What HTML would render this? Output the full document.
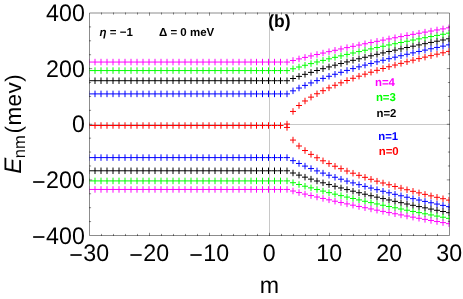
<!DOCTYPE html>
<html><head><meta charset="utf-8"><title>plot</title>
<style>html,body{margin:0;padding:0;background:#fff;}svg{display:block;will-change:transform}text{text-rendering:geometricPrecision;font-family:"Liberation Sans",sans-serif;}</style></head>
<body>
<svg width="463" height="299" viewBox="0 0 463 299">
<rect width="463" height="299" fill="#fff"/>
<defs><clipPath id="c"><rect x="89.5" y="13.0" width="360.0" height="222.5"/></clipPath></defs>
<g stroke="#c8c8c8" stroke-width="1" fill="none"><line x1="89.5" y1="124.5" x2="449.5" y2="124.5"/><line x1="269.5" y1="13.0" x2="269.5" y2="235.5"/></g>
<g clip-path="url(#c)" fill="none" stroke-linecap="butt">
<path stroke="#ff0000" stroke-width="1.0" d="M86.00 125.50h6.0M89.00 122.25v6.5M92.00 125.50h6.0M95.00 122.25v6.5M98.00 125.50h6.0M101.00 122.25v6.5M104.00 125.50h6.0M107.00 122.25v6.5M110.00 125.50h6.0M113.00 122.25v6.5M116.00 125.50h6.0M119.00 122.25v6.5M122.00 125.50h6.0M125.00 122.25v6.5M128.00 125.50h6.0M131.00 122.25v6.5M134.00 125.50h6.0M137.00 122.25v6.5M140.00 125.50h6.0M143.00 122.25v6.5M146.00 125.50h6.0M149.00 122.25v6.5M152.00 125.50h6.0M155.00 122.25v6.5M158.00 125.50h6.0M161.00 122.25v6.5M164.00 125.50h6.0M167.00 122.25v6.5M170.00 125.50h6.0M173.00 122.25v6.5M176.00 125.50h6.0M179.00 122.25v6.5M182.00 125.50h6.0M185.00 122.25v6.5M188.00 125.50h6.0M191.00 122.25v6.5M194.00 125.50h6.0M197.00 122.25v6.5M200.00 125.50h6.0M203.00 122.25v6.5M206.00 125.50h6.0M209.00 122.25v6.5M212.00 125.50h6.0M215.00 122.25v6.5M218.00 125.50h6.0M221.00 122.25v6.5M224.00 125.50h6.0M227.00 122.25v6.5M230.00 125.50h6.0M233.00 122.25v6.5M236.00 125.50h6.0M239.00 122.25v6.5M242.00 125.50h6.0M245.00 122.25v6.5M248.00 125.50h6.0M251.00 122.25v6.5M253.50 125.50h6.0M256.50 122.25v6.5M259.50 125.50h6.0M262.50 122.25v6.5M265.50 125.50h6.0M268.50 122.25v6.5M271.50 125.50h6.0M274.50 122.25v6.5M277.50 125.50h6.0M280.50 122.25v6.5M284.00 124.05h6.0M287.00 120.80v6.5M284.00 127.45h6.0M287.00 124.20v6.5M290.00 111.44h6.0M293.00 108.19v6.5M290.00 140.06h6.0M293.00 136.81v6.5M296.00 105.51h6.0M299.00 102.26v6.5M296.00 145.99h6.0M299.00 142.74v6.5M302.00 100.97h6.0M305.00 97.72v6.5M302.00 150.53h6.0M305.00 147.28v6.5M308.00 97.13h6.0M311.00 93.88v6.5M308.00 154.37h6.0M311.00 151.12v6.5M314.00 93.75h6.0M317.00 90.50v6.5M314.00 157.75h6.0M317.00 154.50v6.5M320.00 90.70h6.0M323.00 87.45v6.5M320.00 160.80h6.0M323.00 157.55v6.5M326.00 87.89h6.0M329.00 84.64v6.5M326.00 163.61h6.0M329.00 160.36v6.5M332.00 85.28h6.0M335.00 82.03v6.5M332.00 166.22h6.0M335.00 162.97v6.5M338.00 82.82h6.0M341.00 79.57v6.5M338.00 168.68h6.0M341.00 165.43v6.5M344.00 80.50h6.0M347.00 77.25v6.5M344.00 171.00h6.0M347.00 167.75v6.5M350.00 78.29h6.0M353.00 75.04v6.5M350.00 173.21h6.0M353.00 169.96v6.5M356.00 76.18h6.0M359.00 72.93v6.5M356.00 175.32h6.0M359.00 172.07v6.5M362.00 74.16h6.0M365.00 70.91v6.5M362.00 177.34h6.0M365.00 174.09v6.5M368.00 72.21h6.0M371.00 68.96v6.5M368.00 179.29h6.0M371.00 176.04v6.5M374.00 70.33h6.0M377.00 67.08v6.5M374.00 181.17h6.0M377.00 177.92v6.5M380.00 68.51h6.0M383.00 65.26v6.5M380.00 182.99h6.0M383.00 179.74v6.5M386.00 66.75h6.0M389.00 63.50v6.5M386.00 184.75h6.0M389.00 181.50v6.5M392.00 65.04h6.0M395.00 61.79v6.5M392.00 186.46h6.0M395.00 183.21v6.5M398.00 63.38h6.0M401.00 60.13v6.5M398.00 188.12h6.0M401.00 184.87v6.5M404.00 61.76h6.0M407.00 58.51v6.5M404.00 189.74h6.0M407.00 186.49v6.5M410.00 60.18h6.0M413.00 56.93v6.5M410.00 191.32h6.0M413.00 188.07v6.5M416.00 58.63h6.0M419.00 55.38v6.5M416.00 192.87h6.0M419.00 189.62v6.5M422.00 57.13h6.0M425.00 53.88v6.5M422.00 194.37h6.0M425.00 191.12v6.5M428.00 55.65h6.0M431.00 52.40v6.5M428.00 195.85h6.0M431.00 192.60v6.5M434.00 54.20h6.0M437.00 50.95v6.5M434.00 197.30h6.0M437.00 194.05v6.5M440.00 52.79h6.0M443.00 49.54v6.5M440.00 198.71h6.0M443.00 195.46v6.5M446.00 51.40h6.0M449.00 48.15v6.5M446.00 200.10h6.0M449.00 196.85v6.5"/>
<path stroke="#0000ff" stroke-width="1.0" d="M86.00 93.90h6.0M89.00 90.65v6.5M86.00 157.60h6.0M89.00 154.35v6.5M92.00 93.90h6.0M95.00 90.65v6.5M92.00 157.60h6.0M95.00 154.35v6.5M98.00 93.90h6.0M101.00 90.65v6.5M98.00 157.60h6.0M101.00 154.35v6.5M104.00 93.90h6.0M107.00 90.65v6.5M104.00 157.60h6.0M107.00 154.35v6.5M110.00 93.90h6.0M113.00 90.65v6.5M110.00 157.60h6.0M113.00 154.35v6.5M116.00 93.90h6.0M119.00 90.65v6.5M116.00 157.60h6.0M119.00 154.35v6.5M122.00 93.90h6.0M125.00 90.65v6.5M122.00 157.60h6.0M125.00 154.35v6.5M128.00 93.90h6.0M131.00 90.65v6.5M128.00 157.60h6.0M131.00 154.35v6.5M134.00 93.90h6.0M137.00 90.65v6.5M134.00 157.60h6.0M137.00 154.35v6.5M140.00 93.90h6.0M143.00 90.65v6.5M140.00 157.60h6.0M143.00 154.35v6.5M146.00 93.90h6.0M149.00 90.65v6.5M146.00 157.60h6.0M149.00 154.35v6.5M152.00 93.90h6.0M155.00 90.65v6.5M152.00 157.60h6.0M155.00 154.35v6.5M158.00 93.90h6.0M161.00 90.65v6.5M158.00 157.60h6.0M161.00 154.35v6.5M164.00 93.90h6.0M167.00 90.65v6.5M164.00 157.60h6.0M167.00 154.35v6.5M170.00 93.90h6.0M173.00 90.65v6.5M170.00 157.60h6.0M173.00 154.35v6.5M176.00 93.90h6.0M179.00 90.65v6.5M176.00 157.60h6.0M179.00 154.35v6.5M182.00 93.90h6.0M185.00 90.65v6.5M182.00 157.60h6.0M185.00 154.35v6.5M188.00 93.90h6.0M191.00 90.65v6.5M188.00 157.60h6.0M191.00 154.35v6.5M194.00 93.90h6.0M197.00 90.65v6.5M194.00 157.60h6.0M197.00 154.35v6.5M200.00 93.90h6.0M203.00 90.65v6.5M200.00 157.60h6.0M203.00 154.35v6.5M206.00 93.90h6.0M209.00 90.65v6.5M206.00 157.60h6.0M209.00 154.35v6.5M212.00 93.90h6.0M215.00 90.65v6.5M212.00 157.60h6.0M215.00 154.35v6.5M218.00 93.90h6.0M221.00 90.65v6.5M218.00 157.60h6.0M221.00 154.35v6.5M224.00 93.90h6.0M227.00 90.65v6.5M224.00 157.60h6.0M227.00 154.35v6.5M230.00 93.90h6.0M233.00 90.65v6.5M230.00 157.60h6.0M233.00 154.35v6.5M236.00 93.90h6.0M239.00 90.65v6.5M236.00 157.60h6.0M239.00 154.35v6.5M242.00 93.90h6.0M245.00 90.65v6.5M242.00 157.60h6.0M245.00 154.35v6.5M248.00 93.90h6.0M251.00 90.65v6.5M248.00 157.60h6.0M251.00 154.35v6.5M253.50 93.90h6.0M256.50 90.65v6.5M253.50 157.60h6.0M256.50 154.35v6.5M259.50 93.90h6.0M262.50 90.65v6.5M259.50 157.60h6.0M262.50 154.35v6.5M265.50 93.90h6.0M268.50 90.65v6.5M265.50 157.60h6.0M268.50 154.35v6.5M271.50 93.90h6.0M274.50 90.65v6.5M271.50 157.60h6.0M274.50 154.35v6.5M277.50 93.90h6.0M280.50 90.65v6.5M277.50 157.60h6.0M280.50 154.35v6.5M284.00 93.90h6.0M287.00 90.65v6.5M284.00 157.60h6.0M287.00 154.35v6.5M290.00 90.84h6.0M293.00 87.59v6.5M290.00 160.66h6.0M293.00 157.41v6.5M296.00 88.02h6.0M299.00 84.77v6.5M296.00 163.48h6.0M299.00 160.23v6.5M302.00 85.40h6.0M305.00 82.15v6.5M302.00 166.10h6.0M305.00 162.85v6.5M308.00 82.93h6.0M311.00 79.68v6.5M308.00 168.57h6.0M311.00 165.32v6.5M314.00 80.61h6.0M317.00 77.36v6.5M314.00 170.89h6.0M317.00 167.64v6.5M320.00 78.39h6.0M323.00 75.14v6.5M320.00 173.11h6.0M323.00 169.86v6.5M326.00 76.28h6.0M329.00 73.03v6.5M326.00 175.22h6.0M329.00 171.97v6.5M332.00 74.25h6.0M335.00 71.00v6.5M332.00 177.25h6.0M335.00 174.00v6.5M338.00 72.30h6.0M341.00 69.05v6.5M338.00 179.20h6.0M341.00 175.95v6.5M344.00 70.42h6.0M347.00 67.17v6.5M344.00 181.08h6.0M347.00 177.83v6.5M350.00 68.60h6.0M353.00 65.35v6.5M350.00 182.90h6.0M353.00 179.65v6.5M356.00 66.83h6.0M359.00 63.58v6.5M356.00 184.67h6.0M359.00 181.42v6.5M362.00 65.12h6.0M365.00 61.87v6.5M362.00 186.38h6.0M365.00 183.13v6.5M368.00 63.45h6.0M371.00 60.20v6.5M368.00 188.05h6.0M371.00 184.80v6.5M374.00 61.83h6.0M377.00 58.58v6.5M374.00 189.67h6.0M377.00 186.42v6.5M380.00 60.25h6.0M383.00 57.00v6.5M380.00 191.25h6.0M383.00 188.00v6.5M386.00 58.71h6.0M389.00 55.46v6.5M386.00 192.79h6.0M389.00 189.54v6.5M392.00 57.20h6.0M395.00 53.95v6.5M392.00 194.30h6.0M395.00 191.05v6.5M398.00 55.72h6.0M401.00 52.47v6.5M398.00 195.78h6.0M401.00 192.53v6.5M404.00 54.27h6.0M407.00 51.02v6.5M404.00 197.23h6.0M407.00 193.98v6.5M410.00 52.85h6.0M413.00 49.60v6.5M410.00 198.65h6.0M413.00 195.40v6.5M416.00 51.46h6.0M419.00 48.21v6.5M416.00 200.04h6.0M419.00 196.79v6.5M422.00 50.10h6.0M425.00 46.85v6.5M422.00 201.40h6.0M425.00 198.15v6.5M428.00 48.75h6.0M431.00 45.50v6.5M428.00 202.75h6.0M431.00 199.50v6.5M434.00 47.44h6.0M437.00 44.19v6.5M434.00 204.06h6.0M437.00 200.81v6.5M440.00 46.14h6.0M443.00 42.89v6.5M440.00 205.36h6.0M443.00 202.11v6.5M446.00 44.86h6.0M449.00 41.61v6.5M446.00 206.64h6.0M449.00 203.39v6.5"/>
<path stroke="#000000" stroke-width="1.0" d="M86.00 80.71h6.0M89.00 77.46v6.5M86.00 170.79h6.0M89.00 167.54v6.5M92.00 80.71h6.0M95.00 77.46v6.5M92.00 170.79h6.0M95.00 167.54v6.5M98.00 80.71h6.0M101.00 77.46v6.5M98.00 170.79h6.0M101.00 167.54v6.5M104.00 80.71h6.0M107.00 77.46v6.5M104.00 170.79h6.0M107.00 167.54v6.5M110.00 80.71h6.0M113.00 77.46v6.5M110.00 170.79h6.0M113.00 167.54v6.5M116.00 80.71h6.0M119.00 77.46v6.5M116.00 170.79h6.0M119.00 167.54v6.5M122.00 80.71h6.0M125.00 77.46v6.5M122.00 170.79h6.0M125.00 167.54v6.5M128.00 80.71h6.0M131.00 77.46v6.5M128.00 170.79h6.0M131.00 167.54v6.5M134.00 80.71h6.0M137.00 77.46v6.5M134.00 170.79h6.0M137.00 167.54v6.5M140.00 80.71h6.0M143.00 77.46v6.5M140.00 170.79h6.0M143.00 167.54v6.5M146.00 80.71h6.0M149.00 77.46v6.5M146.00 170.79h6.0M149.00 167.54v6.5M152.00 80.71h6.0M155.00 77.46v6.5M152.00 170.79h6.0M155.00 167.54v6.5M158.00 80.71h6.0M161.00 77.46v6.5M158.00 170.79h6.0M161.00 167.54v6.5M164.00 80.71h6.0M167.00 77.46v6.5M164.00 170.79h6.0M167.00 167.54v6.5M170.00 80.71h6.0M173.00 77.46v6.5M170.00 170.79h6.0M173.00 167.54v6.5M176.00 80.71h6.0M179.00 77.46v6.5M176.00 170.79h6.0M179.00 167.54v6.5M182.00 80.71h6.0M185.00 77.46v6.5M182.00 170.79h6.0M185.00 167.54v6.5M188.00 80.71h6.0M191.00 77.46v6.5M188.00 170.79h6.0M191.00 167.54v6.5M194.00 80.71h6.0M197.00 77.46v6.5M194.00 170.79h6.0M197.00 167.54v6.5M200.00 80.71h6.0M203.00 77.46v6.5M200.00 170.79h6.0M203.00 167.54v6.5M206.00 80.71h6.0M209.00 77.46v6.5M206.00 170.79h6.0M209.00 167.54v6.5M212.00 80.71h6.0M215.00 77.46v6.5M212.00 170.79h6.0M215.00 167.54v6.5M218.00 80.71h6.0M221.00 77.46v6.5M218.00 170.79h6.0M221.00 167.54v6.5M224.00 80.71h6.0M227.00 77.46v6.5M224.00 170.79h6.0M227.00 167.54v6.5M230.00 80.71h6.0M233.00 77.46v6.5M230.00 170.79h6.0M233.00 167.54v6.5M236.00 80.71h6.0M239.00 77.46v6.5M236.00 170.79h6.0M239.00 167.54v6.5M242.00 80.71h6.0M245.00 77.46v6.5M242.00 170.79h6.0M245.00 167.54v6.5M248.00 80.71h6.0M251.00 77.46v6.5M248.00 170.79h6.0M251.00 167.54v6.5M253.50 80.71h6.0M256.50 77.46v6.5M253.50 170.79h6.0M256.50 167.54v6.5M259.50 80.71h6.0M262.50 77.46v6.5M259.50 170.79h6.0M262.50 167.54v6.5M265.50 80.71h6.0M268.50 77.46v6.5M265.50 170.79h6.0M268.50 167.54v6.5M271.50 80.71h6.0M274.50 77.46v6.5M271.50 170.79h6.0M274.50 167.54v6.5M277.50 80.71h6.0M280.50 77.46v6.5M277.50 170.79h6.0M280.50 167.54v6.5M284.00 80.71h6.0M287.00 77.46v6.5M284.00 170.79h6.0M287.00 167.54v6.5M290.00 78.50h6.0M293.00 75.25v6.5M290.00 173.00h6.0M293.00 169.75v6.5M296.00 76.38h6.0M299.00 73.13v6.5M296.00 175.12h6.0M299.00 171.87v6.5M302.00 74.34h6.0M305.00 71.09v6.5M302.00 177.16h6.0M305.00 173.91v6.5M308.00 72.39h6.0M311.00 69.14v6.5M308.00 179.11h6.0M311.00 175.86v6.5M314.00 70.50h6.0M317.00 67.25v6.5M314.00 181.00h6.0M317.00 177.75v6.5M320.00 68.68h6.0M323.00 65.43v6.5M320.00 182.82h6.0M323.00 179.57v6.5M326.00 66.92h6.0M329.00 63.67v6.5M326.00 184.58h6.0M329.00 181.33v6.5M332.00 65.20h6.0M335.00 61.95v6.5M332.00 186.30h6.0M335.00 183.05v6.5M338.00 63.53h6.0M341.00 60.28v6.5M338.00 187.97h6.0M341.00 184.72v6.5M344.00 61.91h6.0M347.00 58.66v6.5M344.00 189.59h6.0M347.00 186.34v6.5M350.00 60.32h6.0M353.00 57.07v6.5M350.00 191.18h6.0M353.00 187.93v6.5M356.00 58.78h6.0M359.00 55.53v6.5M356.00 192.72h6.0M359.00 189.47v6.5M362.00 57.27h6.0M365.00 54.02v6.5M362.00 194.23h6.0M365.00 190.98v6.5M368.00 55.79h6.0M371.00 52.54v6.5M368.00 195.71h6.0M371.00 192.46v6.5M374.00 54.34h6.0M377.00 51.09v6.5M374.00 197.16h6.0M377.00 193.91v6.5M380.00 52.92h6.0M383.00 49.67v6.5M380.00 198.58h6.0M383.00 195.33v6.5M386.00 51.53h6.0M389.00 48.28v6.5M386.00 199.97h6.0M389.00 196.72v6.5M392.00 50.16h6.0M395.00 46.91v6.5M392.00 201.34h6.0M395.00 198.09v6.5M398.00 48.82h6.0M401.00 45.57v6.5M398.00 202.68h6.0M401.00 199.43v6.5M404.00 47.50h6.0M407.00 44.25v6.5M404.00 204.00h6.0M407.00 200.75v6.5M410.00 46.20h6.0M413.00 42.95v6.5M410.00 205.30h6.0M413.00 202.05v6.5M416.00 44.92h6.0M419.00 41.67v6.5M416.00 206.58h6.0M419.00 203.33v6.5M422.00 43.67h6.0M425.00 40.42v6.5M422.00 207.83h6.0M425.00 204.58v6.5M428.00 42.43h6.0M431.00 39.18v6.5M428.00 209.07h6.0M431.00 205.82v6.5M434.00 41.21h6.0M437.00 37.96v6.5M434.00 210.29h6.0M437.00 207.04v6.5M440.00 40.01h6.0M443.00 36.76v6.5M440.00 211.49h6.0M443.00 208.24v6.5M446.00 38.82h6.0M449.00 35.57v6.5M446.00 212.68h6.0M449.00 209.43v6.5"/>
<path stroke="#00ff00" stroke-width="1.0" d="M86.00 70.59h6.0M89.00 67.34v6.5M86.00 180.91h6.0M89.00 177.66v6.5M92.00 70.59h6.0M95.00 67.34v6.5M92.00 180.91h6.0M95.00 177.66v6.5M98.00 70.59h6.0M101.00 67.34v6.5M98.00 180.91h6.0M101.00 177.66v6.5M104.00 70.59h6.0M107.00 67.34v6.5M104.00 180.91h6.0M107.00 177.66v6.5M110.00 70.59h6.0M113.00 67.34v6.5M110.00 180.91h6.0M113.00 177.66v6.5M116.00 70.59h6.0M119.00 67.34v6.5M116.00 180.91h6.0M119.00 177.66v6.5M122.00 70.59h6.0M125.00 67.34v6.5M122.00 180.91h6.0M125.00 177.66v6.5M128.00 70.59h6.0M131.00 67.34v6.5M128.00 180.91h6.0M131.00 177.66v6.5M134.00 70.59h6.0M137.00 67.34v6.5M134.00 180.91h6.0M137.00 177.66v6.5M140.00 70.59h6.0M143.00 67.34v6.5M140.00 180.91h6.0M143.00 177.66v6.5M146.00 70.59h6.0M149.00 67.34v6.5M146.00 180.91h6.0M149.00 177.66v6.5M152.00 70.59h6.0M155.00 67.34v6.5M152.00 180.91h6.0M155.00 177.66v6.5M158.00 70.59h6.0M161.00 67.34v6.5M158.00 180.91h6.0M161.00 177.66v6.5M164.00 70.59h6.0M167.00 67.34v6.5M164.00 180.91h6.0M167.00 177.66v6.5M170.00 70.59h6.0M173.00 67.34v6.5M170.00 180.91h6.0M173.00 177.66v6.5M176.00 70.59h6.0M179.00 67.34v6.5M176.00 180.91h6.0M179.00 177.66v6.5M182.00 70.59h6.0M185.00 67.34v6.5M182.00 180.91h6.0M185.00 177.66v6.5M188.00 70.59h6.0M191.00 67.34v6.5M188.00 180.91h6.0M191.00 177.66v6.5M194.00 70.59h6.0M197.00 67.34v6.5M194.00 180.91h6.0M197.00 177.66v6.5M200.00 70.59h6.0M203.00 67.34v6.5M200.00 180.91h6.0M203.00 177.66v6.5M206.00 70.59h6.0M209.00 67.34v6.5M206.00 180.91h6.0M209.00 177.66v6.5M212.00 70.59h6.0M215.00 67.34v6.5M212.00 180.91h6.0M215.00 177.66v6.5M218.00 70.59h6.0M221.00 67.34v6.5M218.00 180.91h6.0M221.00 177.66v6.5M224.00 70.59h6.0M227.00 67.34v6.5M224.00 180.91h6.0M227.00 177.66v6.5M230.00 70.59h6.0M233.00 67.34v6.5M230.00 180.91h6.0M233.00 177.66v6.5M236.00 70.59h6.0M239.00 67.34v6.5M236.00 180.91h6.0M239.00 177.66v6.5M242.00 70.59h6.0M245.00 67.34v6.5M242.00 180.91h6.0M245.00 177.66v6.5M248.00 70.59h6.0M251.00 67.34v6.5M248.00 180.91h6.0M251.00 177.66v6.5M253.50 70.59h6.0M256.50 67.34v6.5M253.50 180.91h6.0M256.50 177.66v6.5M259.50 70.59h6.0M262.50 67.34v6.5M259.50 180.91h6.0M262.50 177.66v6.5M265.50 70.59h6.0M268.50 67.34v6.5M265.50 180.91h6.0M268.50 177.66v6.5M271.50 70.59h6.0M274.50 67.34v6.5M271.50 180.91h6.0M274.50 177.66v6.5M277.50 70.59h6.0M280.50 67.34v6.5M277.50 180.91h6.0M280.50 177.66v6.5M284.00 70.59h6.0M287.00 67.34v6.5M284.00 180.91h6.0M287.00 177.66v6.5M290.00 68.77h6.0M293.00 65.52v6.5M290.00 182.73h6.0M293.00 179.48v6.5M296.00 67.00h6.0M299.00 63.75v6.5M296.00 184.50h6.0M299.00 181.25v6.5M302.00 65.28h6.0M305.00 62.03v6.5M302.00 186.22h6.0M305.00 182.97v6.5M308.00 63.61h6.0M311.00 60.36v6.5M308.00 187.89h6.0M311.00 184.64v6.5M314.00 61.98h6.0M317.00 58.73v6.5M314.00 189.52h6.0M317.00 186.27v6.5M320.00 60.40h6.0M323.00 57.15v6.5M320.00 191.10h6.0M323.00 187.85v6.5M326.00 58.85h6.0M329.00 55.60v6.5M326.00 192.65h6.0M329.00 189.40v6.5M332.00 57.34h6.0M335.00 54.09v6.5M332.00 194.16h6.0M335.00 190.91v6.5M338.00 55.86h6.0M341.00 52.61v6.5M338.00 195.64h6.0M341.00 192.39v6.5M344.00 54.41h6.0M347.00 51.16v6.5M344.00 197.09h6.0M347.00 193.84v6.5M350.00 52.99h6.0M353.00 49.74v6.5M350.00 198.51h6.0M353.00 195.26v6.5M356.00 51.59h6.0M359.00 48.34v6.5M356.00 199.91h6.0M359.00 196.66v6.5M362.00 50.22h6.0M365.00 46.97v6.5M362.00 201.28h6.0M365.00 198.03v6.5M368.00 48.88h6.0M371.00 45.63v6.5M368.00 202.62h6.0M371.00 199.37v6.5M374.00 47.56h6.0M377.00 44.31v6.5M374.00 203.94h6.0M377.00 200.69v6.5M380.00 46.26h6.0M383.00 43.01v6.5M380.00 205.24h6.0M383.00 201.99v6.5M386.00 44.98h6.0M389.00 41.73v6.5M386.00 206.52h6.0M389.00 203.27v6.5M392.00 43.73h6.0M395.00 40.48v6.5M392.00 207.77h6.0M395.00 204.52v6.5M398.00 42.49h6.0M401.00 39.24v6.5M398.00 209.01h6.0M401.00 205.76v6.5M404.00 41.27h6.0M407.00 38.02v6.5M404.00 210.23h6.0M407.00 206.98v6.5M410.00 40.06h6.0M413.00 36.81v6.5M410.00 211.44h6.0M413.00 208.19v6.5M416.00 38.88h6.0M419.00 35.63v6.5M416.00 212.62h6.0M419.00 209.37v6.5M422.00 37.71h6.0M425.00 34.46v6.5M422.00 213.79h6.0M425.00 210.54v6.5M428.00 36.55h6.0M431.00 33.30v6.5M428.00 214.95h6.0M431.00 211.70v6.5M434.00 35.41h6.0M437.00 32.16v6.5M434.00 216.09h6.0M437.00 212.84v6.5M440.00 34.28h6.0M443.00 31.03v6.5M440.00 217.22h6.0M443.00 213.97v6.5M446.00 33.17h6.0M449.00 29.92v6.5M446.00 218.33h6.0M449.00 215.08v6.5"/>
<path stroke="#ff00ff" stroke-width="1.0" d="M86.00 62.06h6.0M89.00 58.81v6.5M86.00 189.44h6.0M89.00 186.19v6.5M92.00 62.06h6.0M95.00 58.81v6.5M92.00 189.44h6.0M95.00 186.19v6.5M98.00 62.06h6.0M101.00 58.81v6.5M98.00 189.44h6.0M101.00 186.19v6.5M104.00 62.06h6.0M107.00 58.81v6.5M104.00 189.44h6.0M107.00 186.19v6.5M110.00 62.06h6.0M113.00 58.81v6.5M110.00 189.44h6.0M113.00 186.19v6.5M116.00 62.06h6.0M119.00 58.81v6.5M116.00 189.44h6.0M119.00 186.19v6.5M122.00 62.06h6.0M125.00 58.81v6.5M122.00 189.44h6.0M125.00 186.19v6.5M128.00 62.06h6.0M131.00 58.81v6.5M128.00 189.44h6.0M131.00 186.19v6.5M134.00 62.06h6.0M137.00 58.81v6.5M134.00 189.44h6.0M137.00 186.19v6.5M140.00 62.06h6.0M143.00 58.81v6.5M140.00 189.44h6.0M143.00 186.19v6.5M146.00 62.06h6.0M149.00 58.81v6.5M146.00 189.44h6.0M149.00 186.19v6.5M152.00 62.06h6.0M155.00 58.81v6.5M152.00 189.44h6.0M155.00 186.19v6.5M158.00 62.06h6.0M161.00 58.81v6.5M158.00 189.44h6.0M161.00 186.19v6.5M164.00 62.06h6.0M167.00 58.81v6.5M164.00 189.44h6.0M167.00 186.19v6.5M170.00 62.06h6.0M173.00 58.81v6.5M170.00 189.44h6.0M173.00 186.19v6.5M176.00 62.06h6.0M179.00 58.81v6.5M176.00 189.44h6.0M179.00 186.19v6.5M182.00 62.06h6.0M185.00 58.81v6.5M182.00 189.44h6.0M185.00 186.19v6.5M188.00 62.06h6.0M191.00 58.81v6.5M188.00 189.44h6.0M191.00 186.19v6.5M194.00 62.06h6.0M197.00 58.81v6.5M194.00 189.44h6.0M197.00 186.19v6.5M200.00 62.06h6.0M203.00 58.81v6.5M200.00 189.44h6.0M203.00 186.19v6.5M206.00 62.06h6.0M209.00 58.81v6.5M206.00 189.44h6.0M209.00 186.19v6.5M212.00 62.06h6.0M215.00 58.81v6.5M212.00 189.44h6.0M215.00 186.19v6.5M218.00 62.06h6.0M221.00 58.81v6.5M218.00 189.44h6.0M221.00 186.19v6.5M224.00 62.06h6.0M227.00 58.81v6.5M224.00 189.44h6.0M227.00 186.19v6.5M230.00 62.06h6.0M233.00 58.81v6.5M230.00 189.44h6.0M233.00 186.19v6.5M236.00 62.06h6.0M239.00 58.81v6.5M236.00 189.44h6.0M239.00 186.19v6.5M242.00 62.06h6.0M245.00 58.81v6.5M242.00 189.44h6.0M245.00 186.19v6.5M248.00 62.06h6.0M251.00 58.81v6.5M248.00 189.44h6.0M251.00 186.19v6.5M253.50 62.06h6.0M256.50 58.81v6.5M253.50 189.44h6.0M256.50 186.19v6.5M259.50 62.06h6.0M262.50 58.81v6.5M259.50 189.44h6.0M262.50 186.19v6.5M265.50 62.06h6.0M268.50 58.81v6.5M265.50 189.44h6.0M268.50 186.19v6.5M271.50 62.06h6.0M274.50 58.81v6.5M271.50 189.44h6.0M274.50 186.19v6.5M277.50 62.06h6.0M280.50 58.81v6.5M277.50 189.44h6.0M280.50 186.19v6.5M284.00 62.06h6.0M287.00 58.81v6.5M284.00 189.44h6.0M287.00 186.19v6.5M290.00 60.47h6.0M293.00 57.22v6.5M290.00 191.03h6.0M293.00 187.78v6.5M296.00 58.92h6.0M299.00 55.67v6.5M296.00 192.58h6.0M299.00 189.33v6.5M302.00 57.41h6.0M305.00 54.16v6.5M302.00 194.09h6.0M305.00 190.84v6.5M308.00 55.93h6.0M311.00 52.68v6.5M308.00 195.57h6.0M311.00 192.32v6.5M314.00 54.47h6.0M317.00 51.22v6.5M314.00 197.03h6.0M317.00 193.78v6.5M320.00 53.05h6.0M323.00 49.80v6.5M320.00 198.45h6.0M323.00 195.20v6.5M326.00 51.66h6.0M329.00 48.41v6.5M326.00 199.84h6.0M329.00 196.59v6.5M332.00 50.29h6.0M335.00 47.04v6.5M332.00 201.21h6.0M335.00 197.96v6.5M338.00 48.94h6.0M341.00 45.69v6.5M338.00 202.56h6.0M341.00 199.31v6.5M344.00 47.62h6.0M347.00 44.37v6.5M344.00 203.88h6.0M347.00 200.63v6.5M350.00 46.32h6.0M353.00 43.07v6.5M350.00 205.18h6.0M353.00 201.93v6.5M356.00 45.04h6.0M359.00 41.79v6.5M356.00 206.46h6.0M359.00 203.21v6.5M362.00 43.78h6.0M365.00 40.53v6.5M362.00 207.72h6.0M365.00 204.47v6.5M368.00 42.55h6.0M371.00 39.30v6.5M368.00 208.95h6.0M371.00 205.70v6.5M374.00 41.32h6.0M377.00 38.07v6.5M374.00 210.18h6.0M377.00 206.93v6.5M380.00 40.12h6.0M383.00 36.87v6.5M380.00 211.38h6.0M383.00 208.13v6.5M386.00 38.93h6.0M389.00 35.68v6.5M386.00 212.57h6.0M389.00 209.32v6.5M392.00 37.76h6.0M395.00 34.51v6.5M392.00 213.74h6.0M395.00 210.49v6.5M398.00 36.60h6.0M401.00 33.35v6.5M398.00 214.90h6.0M401.00 211.65v6.5M404.00 35.46h6.0M407.00 32.21v6.5M404.00 216.04h6.0M407.00 212.79v6.5M410.00 34.34h6.0M413.00 31.09v6.5M410.00 217.16h6.0M413.00 213.91v6.5M416.00 33.22h6.0M419.00 29.97v6.5M416.00 218.28h6.0M419.00 215.03v6.5M422.00 32.12h6.0M425.00 28.87v6.5M422.00 219.38h6.0M425.00 216.13v6.5M428.00 31.04h6.0M431.00 27.79v6.5M428.00 220.46h6.0M431.00 217.21v6.5M434.00 29.96h6.0M437.00 26.71v6.5M434.00 221.54h6.0M437.00 218.29v6.5M440.00 28.90h6.0M443.00 25.65v6.5M440.00 222.60h6.0M443.00 219.35v6.5M446.00 27.85h6.0M449.00 24.60v6.5M446.00 223.65h6.0M449.00 220.40v6.5"/>
</g>
<path fill="none" stroke="#000" stroke-opacity="0.45" stroke-width="1" d="M89.5 13.0H449.5V235.5H89.5Z"/>
<path fill="none" stroke="#000" stroke-opacity="0.45" stroke-width="1" d="M101.5 236.0v-2.1M101.5 12.5v2.1M113.5 236.0v-2.1M113.5 12.5v2.1M125.5 236.0v-2.1M125.5 12.5v2.1M137.5 236.0v-2.1M137.5 12.5v2.1M149.5 236.0v-3.2M149.5 12.5v3.2M161.5 236.0v-2.1M161.5 12.5v2.1M173.5 236.0v-2.1M173.5 12.5v2.1M185.5 236.0v-2.1M185.5 12.5v2.1M197.5 236.0v-2.1M197.5 12.5v2.1M209.5 236.0v-3.2M209.5 12.5v3.2M221.5 236.0v-2.1M221.5 12.5v2.1M233.5 236.0v-2.1M233.5 12.5v2.1M245.5 236.0v-2.1M245.5 12.5v2.1M257.5 236.0v-2.1M257.5 12.5v2.1M269.5 236.0v-3.2M269.5 12.5v3.2M281.5 236.0v-2.1M281.5 12.5v2.1M293.5 236.0v-2.1M293.5 12.5v2.1M305.5 236.0v-2.1M305.5 12.5v2.1M317.5 236.0v-2.1M317.5 12.5v2.1M329.5 236.0v-3.2M329.5 12.5v3.2M341.5 236.0v-2.1M341.5 12.5v2.1M353.5 236.0v-2.1M353.5 12.5v2.1M365.5 236.0v-2.1M365.5 12.5v2.1M377.5 236.0v-2.1M377.5 12.5v2.1M389.5 236.0v-3.2M389.5 12.5v3.2M401.5 236.0v-2.1M401.5 12.5v2.1M413.5 236.0v-2.1M413.5 12.5v2.1M425.5 236.0v-2.1M425.5 12.5v2.1M437.5 236.0v-2.1M437.5 12.5v2.1M89.0 221.59h2.1M450.0 221.59h-2.1M89.0 207.69h2.1M450.0 207.69h-2.1M89.0 193.78h2.1M450.0 193.78h-2.1M89.0 179.88h3.2M450.0 179.88h-3.2M89.0 165.97h2.1M450.0 165.97h-2.1M89.0 152.06h2.1M450.0 152.06h-2.1M89.0 138.16h2.1M450.0 138.16h-2.1M89.0 124.25h3.2M450.0 124.25h-3.2M89.0 110.34h2.1M450.0 110.34h-2.1M89.0 96.44h2.1M450.0 96.44h-2.1M89.0 82.53h2.1M450.0 82.53h-2.1M89.0 68.62h3.2M450.0 68.62h-3.2M89.0 54.72h2.1M450.0 54.72h-2.1M89.0 40.81h2.1M450.0 40.81h-2.1M89.0 26.91h2.1M450.0 26.91h-2.1"/>
<text transform="translate(84.8,21.10) scale(0.967,1)" font-size="24.0" text-anchor="end">400</text>
<text transform="translate(84.8,76.72) scale(0.967,1)" font-size="24.0" text-anchor="end">200</text>
<text transform="translate(84.8,132.35) scale(0.967,1)" font-size="24.0" text-anchor="end">0</text>
<text transform="translate(84.8,187.97) scale(0.967,1)" font-size="24.0" text-anchor="end"><tspan dy="1.8" letter-spacing="0.5">−</tspan><tspan dy="-1.8">200</tspan></text>
<text transform="translate(84.8,243.60) scale(0.967,1)" font-size="24.0" text-anchor="end"><tspan dy="1.8" letter-spacing="0.5">−</tspan><tspan dy="-1.8">400</tspan></text>
<text transform="translate(89.20,261.25) scale(0.967,1)" font-size="24.0" text-anchor="middle"><tspan dy="1.8" letter-spacing="0.5">−</tspan><tspan dy="-1.8">30</tspan></text>
<text transform="translate(149.20,261.25) scale(0.967,1)" font-size="24.0" text-anchor="middle"><tspan dy="1.8" letter-spacing="0.5">−</tspan><tspan dy="-1.8">20</tspan></text>
<text transform="translate(209.20,261.25) scale(0.967,1)" font-size="24.0" text-anchor="middle"><tspan dy="1.8" letter-spacing="0.5">−</tspan><tspan dy="-1.8">10</tspan></text>
<text transform="translate(269.20,261.25) scale(0.967,1)" font-size="24.0" text-anchor="middle">0</text>
<text transform="translate(329.20,261.25) scale(0.967,1)" font-size="24.0" text-anchor="middle">10</text>
<text transform="translate(389.20,261.25) scale(0.967,1)" font-size="24.0" text-anchor="middle">20</text>
<text transform="translate(449.20,261.25) scale(0.967,1)" font-size="24.0" text-anchor="middle">30</text>
<text x="269.3" y="292.7" font-size="23.2" text-anchor="middle">m</text>
<text transform="translate(21.1,173.8) rotate(-90)" font-size="23.2"><tspan font-style="italic" font-size="24">E</tspan><tspan font-size="16.5" dy="4.3" dx="-0.5">nm</tspan><tspan dy="-4.3" dx="1.9" font-size="22.5" letter-spacing="0.4">(mev)</tspan></text>
<text x="268.3" y="27.4" font-size="17.5" font-weight="bold">(b)</text>
<text x="99.6" y="35.9" font-size="11.5" font-weight="bold"><tspan font-style="italic">η</tspan> = −1</text>
<text x="159" y="35.9" font-size="11.5" font-weight="bold">Δ = 0 meV</text>
<text x="375.0" y="85.7" font-size="11.4" font-weight="bold" fill="#ff00ff">n=4</text>
<text x="375.9" y="101.2" font-size="11.4" font-weight="bold" fill="#00ff00">n=3</text>
<text x="376.5" y="116.6" font-size="11.4" font-weight="bold" fill="#000000">n=2</text>
<text x="378.2" y="140.3" font-size="11.4" font-weight="bold" fill="#0000ff">n=1</text>
<text x="378.7" y="154.8" font-size="11.4" font-weight="bold" fill="#ff0000">n=0</text>
</svg></body></html>
